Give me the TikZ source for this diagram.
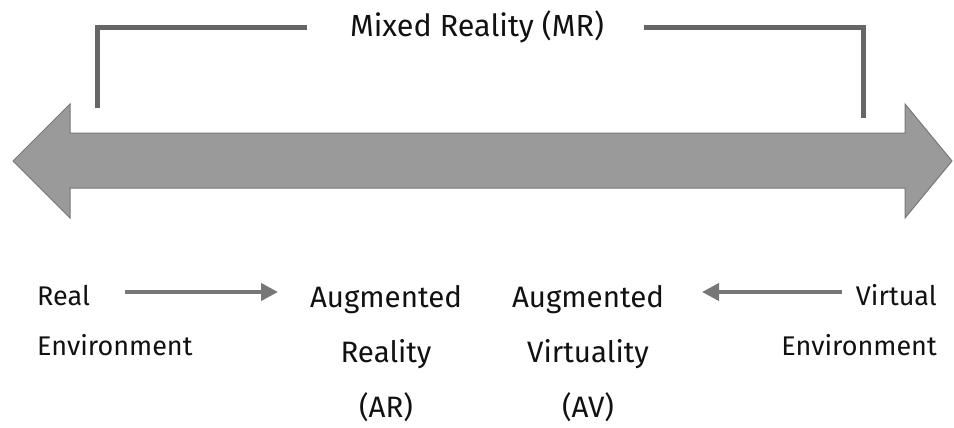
\documentclass[tikz,border=0pt]{standalone}
\usepackage{fontspec}
\setmainfont{Fira Sans}
\usetikzlibrary{arrows.meta}
\definecolor{bigfill}{HTML}{9A9A9A}
\definecolor{bigedge}{HTML}{777777}
\definecolor{brk}{HTML}{666666}
\definecolor{txt}{HTML}{111111}
\begin{document}
\begin{tikzpicture}[x=1pt,y=-1pt,
  lbl/.style={inner sep=0pt,text=txt},
  sidelbl/.style={lbl,font=\fontsize{27}{50}\selectfont},
  midlbl/.style={lbl,font=\fontsize{29.5}{55}\selectfont,align=center,anchor=base},
  bracketline/.style={draw=brk,line width=5pt},
  smallarrow/.style={draw=bigedge,line width=4pt,-{Triangle[length=17pt,width=17pt]}}]
\useasboundingbox (0,0) rectangle (954,428);
% big double arrow
\draw[fill=bigfill,draw=bigedge,line width=1pt]
  (13,161) -- (70,104) -- (70,133) -- (905,133) -- (905,104) -- (952,161)
  -- (905,218) -- (905,188) -- (70,188) -- (70,218) -- cycle;
% bracket
\node[lbl,anchor=base,font=\fontsize{30.5}{36}\selectfont] (mr) at (477,37) {Mixed Reality (MR)};
\coordinate (bl) at (97,108);
\coordinate (br) at (863,118);
\draw[bracketline] (bl) |- (307,28);
\draw[bracketline] (644,28) -| (br);
% labels
\node[sidelbl,anchor=base west,align=left] (re) at (37,355) {Real\\Environment};
\node[midlbl] (ar) at (386,417) {Augmented\\Reality\\(AR)};
\node[midlbl] (av) at (588,417) {Augmented\\Virtuality\\(AV)};
\node[sidelbl,anchor=base east,align=right] (ve) at (937,355) {Virtual\\Environment};
\coordinate (a1s) at (125,292);
\coordinate (a1e) at (278,292);
\coordinate (a2s) at (842,292);
\coordinate (a2e) at (702,292);
\draw[smallarrow] (a1s) -- (a1e);
\draw[smallarrow] (a2s) -- (a2e);
\end{tikzpicture}
\end{document}
